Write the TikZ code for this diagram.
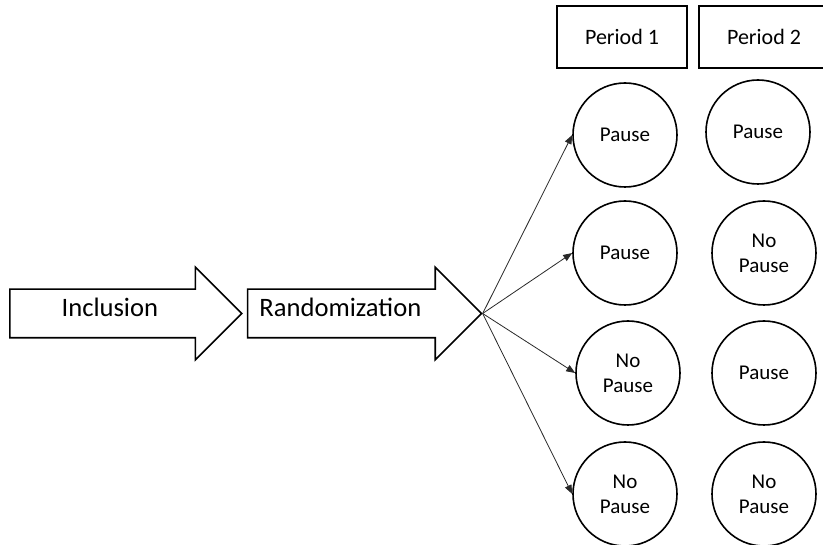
\documentclass[tikz,border=0pt]{standalone}
\usepackage{fontspec}
\setmainfont{Carlito}
\usetikzlibrary{shapes.geometric, shapes.arrows, arrows.meta, positioning}
\definecolor{mydark}{RGB}{0,0,0}
\definecolor{mythin}{RGB}{40,40,40}
\tikzset{
  bigarrow/.style 2 args={single arrow, draw=mydark, fill=white, line width=1.6pt,
    font=\fontsize{26.6}{31}\selectfont, text width=#1, align=left,
    execute at begin node={\hspace*{#2}},
    inner xsep=0pt, inner ysep=0pt, text height=27pt, text depth=20pt,
    single arrow head extend=22pt, single arrow tip angle=90},
  periodbox/.style={rectangle, draw=mydark, line width=1.6pt,
    minimum width=130pt, minimum height=62pt, inner sep=0pt,
    font=\fontsize{22}{26}\selectfont},
  state/.style={circle, draw=mydark, line width=1.6pt, minimum size=104pt,
    inner sep=0pt, align=center, font=\fontsize{21}{25}\selectfont},
  fan/.style={-{Triangle[length=9pt, width=7pt]}, line width=0.8pt, color=mythin}
}

\begin{document}
\begin{tikzpicture}[x=1pt, y=-1pt]
  \useasboundingbox (0,0) rectangle (823,545);

  % Flow arrows
  \node[bigarrow={206pt}{51pt}, anchor=tail] (incl) at (9,313.5) {Inclusion};
  \node[bigarrow={208pt}{11pt}, right=4pt of incl.tip, anchor=tail] (rand) {Randomization};

  % Period headers
  \node[periodbox] (p1) at (622,37) {Period 1};
  \node[periodbox] (p2) at (764,37) {Period 2};

  % Period 1
  \node[state] (c11) at (625,135) {Pause};
  \node[state] (c21) at (625,253) {Pause};
  \node[state] (c31) at (628,373) {No\\Pause};
  \node[state] (c41) at (625,494) {No\\Pause};

  % Period 2
  \node[state] (c12) at (758,132) {Pause};
  \node[state] (c22) at (764,253) {No\\Pause};
  \node[state] (c32) at (764,373) {Pause};
  \node[state] (c42) at (764,494) {No\\Pause};

  % Randomization branches
  \draw[fan] (rand.tip) -- (c11.west);
  \draw[fan] (rand.tip) -- (c21.west);
  \draw[fan] (rand.tip) -- (c31.west);
  \draw[fan] (rand.tip) -- (c41.west);
\end{tikzpicture}
\end{document}
